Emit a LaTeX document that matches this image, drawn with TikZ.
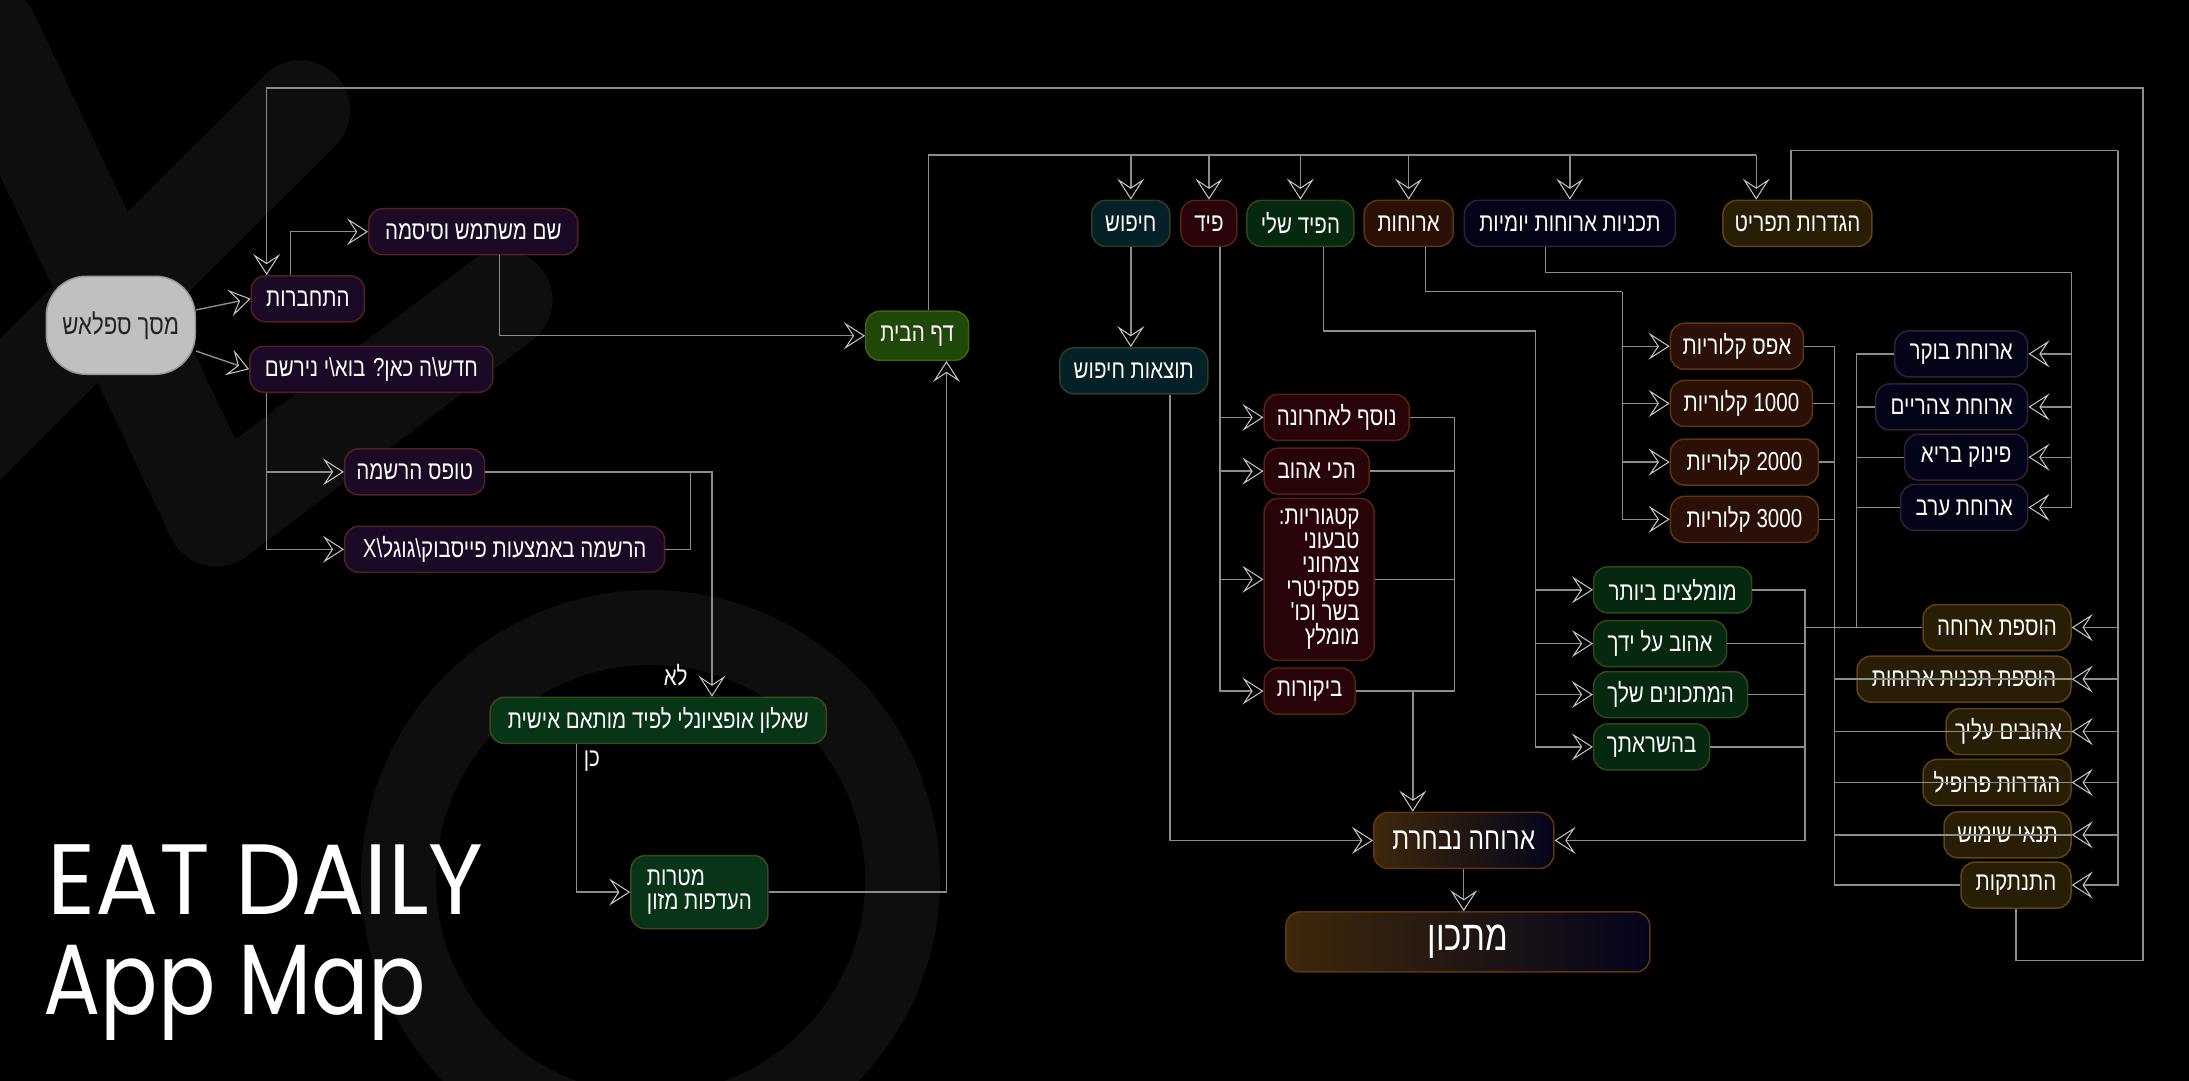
\documentclass[tikz,border=0pt]{standalone}
\usepackage{fontspec}
\usetikzlibrary{arrows.meta,positioning,calc}
\TeXXeTstate=1
\newfontfamily\heb[Script=Hebrew,FakeStretch=0.79]{Liberation Sans}
\newfontfamily\eatfont[FakeStretch=0.94]{Poppins}
\newfontfamily\mapfont[FakeStretch=0.85]{Poppins}
\definecolor{bgShape}{RGB}{14,14,14}
\definecolor{wireCol}{RGB}{140,140,140}
\definecolor{tipCol}{RGB}{200,200,200}
\definecolor{splashCol}{RGB}{192,192,192}
\definecolor{splashRim}{RGB}{150,150,150}
\definecolor{splashTxt}{RGB}{35,35,35}
\definecolor{loginCol}{RGB}{26,10,38}
\definecolor{loginRim}{RGB}{80,32,36}
\definecolor{quizCol}{RGB}{8,52,24}
\definecolor{quizRim}{RGB}{62,72,22}
\definecolor{homeCol}{RGB}{32,72,10}
\definecolor{homeRim}{RGB}{72,92,22}
\definecolor{searchCol}{RGB}{5,32,38}
\definecolor{searchRim}{RGB}{42,62,32}
\definecolor{feedCol}{RGB}{40,4,8}
\definecolor{feedRim}{RGB}{85,36,14}
\definecolor{myfeedCol}{RGB}{6,40,16}
\definecolor{myfeedRim}{RGB}{48,72,20}
\definecolor{mealsCol}{RGB}{42,16,6}
\definecolor{mealsRim}{RGB}{95,52,14}
\definecolor{planCol}{RGB}{4,4,24}
\definecolor{planRim}{RGB}{52,30,62}
\definecolor{setCol}{RGB}{40,30,6}
\definecolor{setRim}{RGB}{98,66,14}
\definecolor{goldCol}{RGB}{62,40,10}
\definecolor{plumCol}{RGB}{30,6,30}
\definecolor{navyCol}{RGB}{4,4,28}
\newcommand{\rl}[1]{\beginR #1\endR}
\tikzset{
  screen/.style={draw,line width=1.5pt,rounded corners=14pt,text=white,
                 minimum height=46pt,inner xsep=9pt,inner ysep=4pt,
                 font=\heb\fontsize{26}{24}\selectfont},
  splash/.style={screen,fill=splashCol,draw=splashRim,text=splashTxt,
                 rounded corners=40pt,minimum width=149pt,minimum height=98pt,
                 font=\heb\fontsize{28}{28}\selectfont},
  login/.style={screen,fill=loginCol,draw=loginRim},
  quiz/.style={screen,fill=quizCol,draw=quizRim},
  home/.style={screen,fill=homeCol,draw=homeRim},
  search/.style={screen,fill=searchCol,draw=searchRim},
  feeditem/.style={screen,fill=feedCol,draw=feedRim},
  myfeed/.style={screen,fill=myfeedCol,draw=myfeedRim},
  calitem/.style={screen,fill=mealsCol,draw=mealsRim},
  planitem/.style={screen,fill=planCol,draw=planRim},
  setitem/.style={screen,fill=setCol,draw=setRim},
  chosen/.style={screen,left color=goldCol,middle color=plumCol,right color=navyCol,
                 draw=mealsRim},
  wire/.style={draw=wireCol,line width=1.4pt},
  flow/.style={wire,-{Stealth[open,length=21pt,width=27pt,inset=9pt,line width=1pt,color=tipCol]}},
  lab/.style={text=white,font=\heb\fontsize{26}{24}\selectfont},
  bigtitle/.style={text=white,inner sep=0pt,anchor=base west,
                   font=\eatfont\fontsize{100}{100}\selectfont},
}

\begin{document}
\begin{tikzpicture}[x=1.396pt,y=-1.396pt]
  \useasboundingbox (0,0) rectangle (1568,774);
  \fill[black] (0,0) rectangle (1568,774);
  % faint logo behind everything
  \begin{scope}
    \clip (0,0) rectangle (1568,774);
    \draw[bgShape,line width=100pt,line cap=round] (215,79) -- (-72,365);
    \draw[bgShape,line width=100pt,line cap=round,line join=round]
      (-8,25) -- (155,370) -- (360,215);
    \draw[bgShape,line width=75pt] (466,630) circle[radius=252pt];
  \end{scope}

  % title
  \node[bigtitle] (eat) at (34,655) {EAT DAILY};
  \node[bigtitle,font=\mapfont\fontsize{100}{100}\selectfont] (appmap) at (31,727) {App Map};

  % sign in / sign up
  \node[splash] (splash) at (86.5,233) {\rl{מסך ספלאש}};
  \node[login,minimum width=113pt] (login) at (220.5,214) {\rl{התחברות}};
  \node[login,minimum width=209pt] (userpass) at (339,166) {\rl{שם משתמש וסיסמה}};
  \node[login,minimum width=243pt] (newhere) at (266,264.5)
    {\rl{חדש\textbackslash ה כאן? בוא\textbackslash י נירשם}};
  \node[login,minimum width=140pt] (regform) at (297,338) {\rl{טופס הרשמה}};
  \node[login,minimum width=320pt] (social) at (361.5,393.5)
    {\rl{הרשמה באמצעות פייסבוק\textbackslash גוגל\textbackslash X}};
  \node[quiz,minimum width=336pt] (quiz) at (471.5,516) {\rl{שאלון אופציונלי לפיד מותאם אישית}};
  \node[quiz,minimum width=137pt,minimum height=73pt,align=left] (goals) at (501,639)
    {\rl{מטרות}\\\rl{העדפות מזון}};
  \node[lab] (no) at (484,484) {\rl{לא}};
  \node[lab] (yes) at (424,545) {\rl{כן}};
  \node[home,minimum width=103pt,minimum height=49pt] (home) at (657,240.5) {\rl{דף הבית}};

  % main menu
  \node[search,minimum width=78pt] (search) at (810,160) {\rl{חיפוש}};
  \node[feeditem,minimum width=56pt] (feed) at (866,160) {\rl{פיד}};
  \node[myfeed,minimum width=107pt] (myfeed) at (931.5,160) {\rl{הפיד שלי}};
  \node[calitem,minimum width=89pt] (meals) at (1009,160) {\rl{ארוחות}};
  \node[planitem,minimum width=211pt] (plans) at (1124.5,160) {\rl{תכניות ארוחות יומיות}};
  \node[setitem,minimum width=149pt] (menuset) at (1287.5,160) {\rl{הגדרות תפריט}};

  \node[search,minimum width=148pt,below=100pt of search,xshift=3pt] (results) {\rl{תוצאות חיפוש}};

  % feed
  \node[feeditem,minimum width=145pt,anchor=west] (recent) at (905,299) {\rl{נוסף לאחרונה}};
  \node[feeditem,minimum width=105pt,anchor=west] (fav) at (905,337.5) {\rl{הכי אהוב}};
  \node[feeditem,minimum width=110pt,minimum height=162pt,align=right,anchor=west] (cats) at (905,415)
    {\rl{קטגוריות:}\\\rl{טבעוני}\\\rl{צמחוני}\\\rl{פסקיטרי}\\\rl{בשר וכו'}\\\rl{מומלץ}};
  \node[feeditem,minimum width=91pt,anchor=west] (reviews) at (905,495) {\rl{ביקורות}};

  % my feed
  \node[myfeed,minimum width=158pt,anchor=west] (best) at (1141,422.5) {\rl{מומלצים ביותר}};
  \node[myfeed,minimum width=133pt,anchor=west] (lovedby) at (1141,461) {\rl{אהוב על ידך}};
  \node[myfeed,minimum width=154pt,anchor=west] (yours) at (1141,497.5) {\rl{המתכונים שלך}};
  \node[myfeed,minimum width=116pt,anchor=west] (inspired) at (1141,535) {\rl{בהשראתך}};

  % calories
  \node[calitem,minimum width=133pt,anchor=west] (cal0) at (1196,248) {\rl{אפס קלוריות}};
  \node[calitem,minimum width=142pt,anchor=west] (cal1) at (1196,289) {\rl{\beginL 1000\endL{} קלוריות}};
  \node[calitem,minimum width=148pt,anchor=west] (cal2) at (1196,331) {\rl{\beginL 2000\endL{} קלוריות}};
  \node[calitem,minimum width=148pt,anchor=west] (cal3) at (1196,372) {\rl{\beginL 3000\endL{} קלוריות}};

  % daily plans
  \node[planitem,minimum width=133pt,anchor=east] (breakfast) at (1453,253.5) {\rl{ארוחת בוקר}};
  \node[planitem,minimum width=152pt,anchor=east] (lunch) at (1453,291.5) {\rl{ארוחת צהריים}};
  \node[planitem,minimum width=123pt,anchor=east] (snack) at (1453,327.5) {\rl{פינוק בריא}};
  \node[planitem,minimum width=127pt,anchor=east] (dinner) at (1453,363.5) {\rl{ארוחת ערב}};

  % menu settings
  \node[setitem,minimum width=148pt,anchor=east] (addmeal) at (1484,449.5) {\rl{הוספת ארוחה}};
  \node[setitem,minimum width=214pt,anchor=east] (addplan) at (1484,486.5) {\rl{הוספת תכנית ארוחות}};
  \node[setitem,minimum width=124pt,anchor=east] (favs) at (1484,524) {\rl{אהובים עליך}};
  \node[setitem,minimum width=148pt,anchor=east] (profile) at (1484,560.5) {\rl{הגדרות פרופיל}};
  \node[setitem,minimum width=127pt,anchor=east] (terms) at (1484,598) {\rl{תנאי שימוש}};
  \node[setitem,minimum width=110pt,anchor=east] (logout) at (1484,634) {\rl{התנתקות}};

  % meal and recipe
  \node[chosen,minimum width=180pt,minimum height=56pt,font=\heb\fontsize{31}{31}\selectfont]
    (chosen) at (1048.5,602) {\rl{ארוחה נבחרת}};
  \node[chosen,minimum width=364pt,minimum height=60pt,font=\heb\fontsize{42}{42}\selectfont,
        below=42pt of chosen,xshift=4pt] (recipe) {\rl{מתכון}};

  % bus points
  \coordinate (topbus) at (0,111);
  \coordinate (gbus) at (1100,237);
  \coordinate (cbus) at (1162,209);
  \coordinate (mbus) at (1484,195);
  \coordinate (sbus) at (1517,108);
  \coordinate (feedbus) at (1042,0);
  \coordinate (gwest) at (1293,0);
  \coordinate (mwest) at (1330,0);
  \coordinate (swest) at (1314,0);
  \coordinate (loopR) at (1535,688);
  \coordinate (loopT) at (191,63);

  % left side flows
  \draw[flow] (splash) -- (login.west);
  \draw[flow] (splash) -- (newhere.west);
  \coordinate (loginup) at ($(login.north)+(-12.5,0)$);
  \coordinate (loginin) at ($(login.north)+(-29.5,0)$);
  \draw[flow] (loginup) |- (userpass.west);
  \draw[flow] ($(userpass.south)+(19,0)$) |- (home.west);
  \coordinate (newdown) at ($(newhere.south)+(-75,0)$);
  \draw[flow] (newdown) |- (regform.west);
  \draw[flow] (newdown) |- (social.west);
  \coordinate (quizin) at ($(quiz.north)+(38.5,0)$);
  \draw[flow] (regform.east) -| (quizin);
  \draw[wire] (social.east) -| ($(regform.east)+(147,0)$);
  \draw[flow] ($(quiz.south)+(-58.5,0)$) |- (goals.west);
  \draw[flow] (goals.east) -| ($(home.south)+(21,0)$);

  % home to the menu
  \coordinate (menuin) at ($(menuset.north)+(-29.5,0)$);
  \draw[wire] ($(home.north)+(8,0)$) |- (menuin |- topbus);
  \foreach \m in {search,feed,myfeed,meals,plans}
    \draw[flow] (\m.north |- topbus) -- (\m.north);
  \draw[flow] (menuin |- topbus) -- (menuin);

  % search
  \draw[flow] (search.south) -- (search.south |- results.north);
  \draw[flow] ($(results.south)+(26,0)$) |- (chosen.west);

  % feed
  \coordinate (fdown) at ($(feed.south)+(8,0)$);
  \foreach \f in {recent,fav,cats,reviews}
    \draw[flow] (fdown) |- (\f.west);
  \draw[wire] (recent.east) -| (feedbus |- reviews.east) -- (reviews.east);
  \draw[wire] (fav.east) -- (fav.east -| feedbus);
  \draw[wire] (cats.east) -- (cats.east -| feedbus);
  \coordinate (fdrop) at ($(chosen.north)+(-36.5,0)$);
  \draw[flow] (fdrop |- reviews.east) -- (fdrop);

  % my feed
  \draw[wire] ($(myfeed.south)+(16.5,0)$) |- (gbus);
  \foreach \g in {best,lovedby,yours,inspired}
    \draw[flow] (gbus) |- (\g.west);
  \draw[flow] (best.east) -| (gwest |- chosen.east) -- (chosen.east);
  \foreach \g in {lovedby,yours,inspired}
    \draw[wire] (\g.east) -- (\g.east -| gwest);

  % meals
  \draw[wire] ($(meals.south)+(12,0)$) |- (cbus);
  \foreach \c in {cal0,cal1,cal2,cal3}
    \draw[flow] (cbus) |- (\c.west);

  % daily plans
  \draw[wire] ($(plans.south)+(-17.5,0)$) |- (mbus);
  \foreach \p in {breakfast,lunch,snack,dinner}
    \draw[flow] (mbus) |- (\p.east);
  \draw[wire] (breakfast.west) -| (mwest |- addmeal.west);
  \foreach \p in {lunch,snack,dinner}
    \draw[wire] (\p.west) -- (\p.west -| mwest);
  \draw[wire] (addmeal.west) -- (addmeal.west -| gwest);

  % menu settings
  \draw[wire] ($(menuset.north)+(-4.5,0)$) |- (sbus);
  \foreach \s in {addmeal,addplan,favs,profile,terms,logout}
    \draw[flow] (sbus) |- (\s.east);
  \draw[wire] (cal0.east) -| (swest |- logout.west) -- (logout.west);
  \foreach \s in {cal1,cal2,cal3,addplan,favs,profile,terms}
    \draw[wire] (\s.east) -- (\s.east -| swest);

  % chosen meal to recipe, logout back to login
  \draw[flow] (chosen.south) -- (chosen.south |- recipe.north);
  \draw[flow] (logout.south) |- (loopR) |- (loopT) -- (loginin);
\end{tikzpicture}
\end{document}
